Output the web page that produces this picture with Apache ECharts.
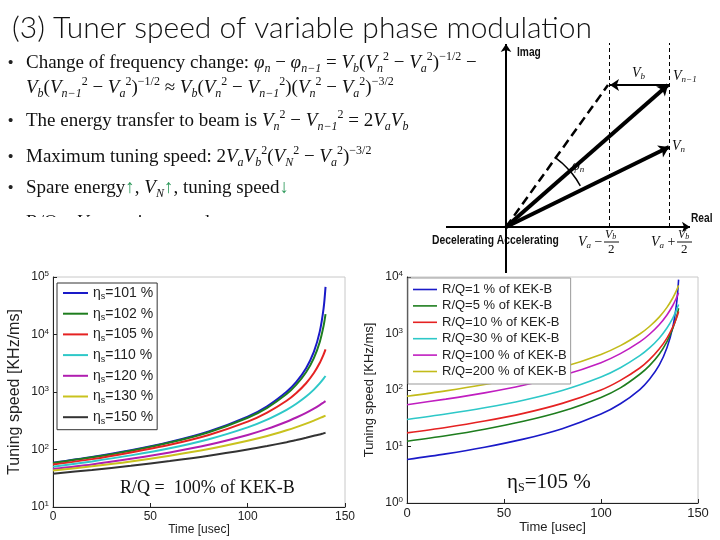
<!DOCTYPE html>
<html><head><meta charset="utf-8">
<script src="https://cdn.jsdelivr.net/npm/echarts/dist/echarts.min.js"></script>
<style>html,body{margin:0;padding:0;background:#fff}#c{width:720px;height:540px}</style>
</head><body><div id="c"></div>
<script>
// ---------- data ----------
const timeUs = [0, 20, 40, 60, 80, 100, 110, 120, 125, 130, 134, 137, 139, 140];

// left chart: R/Q = 100% of KEK-B, different eta_s
const etaLabels = ['101', '102', '105', '110', '120', '130', '150'];
const eta101 = [59, 74, 97, 135, 206, 373, 565, 1010, 1500, 2600, 5000, 11100, 28500, 67500];
const eta102 = [58, 73, 95, 132, 200, 356, 531, 920, 1340, 2200, 3880, 7330, 14100, 22600];
const eta105 = [55, 68, 89, 121, 179, 305, 438, 704, 960, 1420, 2140, 3190, 4490, 5510];
const eta110 = [50, 62, 79, 105, 151, 243, 331, 490, 624, 832, 1100, 1410, 1710, 1900];
const eta120 = [46, 55, 69, 89, 121, 179, 228, 304, 360, 434, 515, 593, 657, 693];
const eta130 = [43, 51, 62, 78, 102, 142, 172, 216, 245, 282, 318, 351, 375, 389];
const eta150 = [38, 44, 52, 63, 78, 100, 115, 134, 146, 160, 173, 183, 191, 195];

// right chart: eta_s = 105 %, different R/Q
const rqLabels = ['1', '5', '10', '30', '100', '200'];
const rq1 = [5.9, 7.4, 9.7, 13.5, 20.7, 37.5, 57, 102, 155, 275, 560, 1300, 3500, 9000];
const rq5 = [12.4, 15.5, 20.2, 27.9, 42, 74, 109, 190, 270, 430, 720, 1230, 2000, 2800];
const rq10 = [17.4, 21.7, 28.2, 38.6, 58, 100, 148, 245, 345, 530, 830, 1300, 1900, 2450];
const rq30 = [30, 37.5, 48.5, 66, 98, 170, 248, 405, 555, 825, 1250, 1880, 2650, 3250];
const rq100 = [55, 69, 89, 121, 180, 305, 440, 710, 970, 1430, 2130, 3130, 4350, 5250];
const rq200 = [77.6, 96.6, 125, 170, 252, 427, 610, 980, 1330, 1950, 2900, 4250, 5850, 7100];

const xTicks = [0, 50, 100, 150];

// phasor diagram (arbitrary units)
const imagAxis = [[0, -4.6], [0, 18.3]];
const realAxis = [[-6, 0], [18.4, 0]];
const vecNm1 = [[0, 0], [16.2, 14.2]];
const vecN = [[0, 0], [16.3, 8.0]];
const vecDashed = [[0, 0], [10.2, 14.2]];
const vecVb = [[16.3, 14.2], [10.4, 14.2]];
const guideLow = [[10.3, 0], [10.3, 18.4]];
const guideHigh = [[16.3, 0], [16.3, 18.4]];
const phiArc = [[5.0, 6.88], [5.58, 6.42], [6.11, 5.91], [6.61, 5.35], [7.05, 4.75], [7.43, 4.12]];

// ---------- chart ----------
const SANS = 'Liberation Sans, Arial, sans-serif';
const SERIF = 'Liberation Serif, Times New Roman, serif';
const leftColors = ['#1a1ac8', '#1e7d1e', '#e52222', '#2ec8c8', '#b01eb0', '#c9c21e', '#333333'];
const rightColors = ['#1a1ac8', '#1e7d1e', '#e52222', '#2ec8c8', '#c01ec0', '#c2bb1a'];

function pairs(arr) { return timeUs.map((t, i) => [t, arr[i]]); }

const leftData = [eta101, eta102, eta105, eta110, eta120, eta130, eta150];
const rightData = [rq1, rq5, rq10, rq30, rq100, rq200];
const leftNames = etaLabels.map(l => 'ηs=' + l + ' %');
const rightNames = rqLabels.map(l => 'R/Q=' + l + ' % of KEK-B');

function logLabel(v) {
  return '{b|10}{e|' + Math.round(Math.log10(v)) + '}';
}

function makeX(idx, fs) {
  return {
    type: 'value', gridIndex: idx, min: 0, max: 150, interval: 50,
    name: 'Time [usec]', nameLocation: 'middle', nameGap: idx === 0 ? 16 : 17,
    nameTextStyle: { fontFamily: SANS, fontSize: fs, color: '#222' },
    axisLine: { show: true, lineStyle: { color: '#222', width: 1 } },
    axisTick: { show: true, inside: true, length: 4, lineStyle: { color: '#222' } },
    axisLabel: { fontFamily: SANS, fontSize: fs, color: '#222', margin: 4 },
    splitLine: { show: false }
  };
}
function makeY(idx, min, max, nfs, gap) {
  return {
    type: 'log', logBase: 10, gridIndex: idx, min: min, max: max,
    name: 'Tuning speed [KHz/ms]', nameLocation: 'middle', nameGap: gap,
    nameTextStyle: { fontFamily: SANS, fontSize: nfs, color: '#222' },
    axisLine: { show: true, lineStyle: { color: '#222', width: 1 } },
    axisTick: { show: true, inside: true, length: 4, lineStyle: { color: '#222' } },
    axisLabel: {
      formatter: logLabel, margin: 4,
      rich: {
        b: { fontFamily: SANS, fontSize: 12, color: '#222', lineHeight: 14 },
        e: { fontFamily: SANS, fontSize: 8, color: '#222', lineHeight: 8, verticalAlign: 'top' }
      }
    },
    splitLine: { show: false }
  };
}

const series = [];
leftData.forEach((arr, i) => series.push({
  type: 'line', name: leftNames[i], xAxisIndex: 0, yAxisIndex: 0,
  data: pairs(arr), showSymbol: false, symbol: 'none', smooth: 0.3,
  lineStyle: { width: 2, color: leftColors[i] }, itemStyle: { color: leftColors[i] }, z: 2
}));
rightData.forEach((arr, i) => series.push({
  type: 'line', name: rightNames[i], xAxisIndex: 1, yAxisIndex: 1,
  data: pairs(arr), showSymbol: false, symbol: 'none', smooth: 0.3,
  lineStyle: { width: 1.6, color: rightColors[i] }, itemStyle: { color: rightColors[i] }, z: 2
}));

function vec(coords, opts) {
  return Object.assign({
    type: 'lines', coordinateSystem: 'cartesian2d', xAxisIndex: 2, yAxisIndex: 2,
    silent: true, animation: false,
    data: [{ coords: coords }],
    symbol: ['none', 'arrow'], symbolSize: 10,
    lineStyle: { color: '#000', width: 4, opacity: 1, curveness: 0 }
  }, opts);
}
series.push(vec(imagAxis, { symbolSize: 8, lineStyle: { color: '#000', width: 2, opacity: 1 } }));
series.push(vec(realAxis, { symbolSize: 8, lineStyle: { color: '#000', width: 2, opacity: 1 } }));
series.push(vec(guideLow, { symbol: ['none', 'none'], lineStyle: { color: '#000', width: 1, type: [4, 3], opacity: 1 } }));
series.push(vec(guideHigh, { symbol: ['none', 'none'], lineStyle: { color: '#000', width: 1, type: [4, 3], opacity: 1 } }));
series.push(vec(vecDashed, { symbol: ['none', 'none'], lineStyle: { color: '#000', width: 2.5, type: [9, 5], opacity: 1 } }));
series.push(vec(vecNm1, {}));
series.push(vec(vecN, {}));
series.push(vec(vecVb, { symbolSize: 9, lineStyle: { color: '#000', width: 2, opacity: 1 } }));
series.push(vec(phiArc, { polyline: true, symbol: ['arrow', 'arrow'], symbolSize: 7, lineStyle: { color: '#000', width: 1.5, opacity: 1 } }));

// math text rich styles
const T = 19, S = 12;
const mathRich = {
  n: { fontFamily: SERIF, fontSize: T, fill: '#111', lineHeight: 24 },
  i: { fontFamily: SERIF, fontSize: T, fontStyle: 'italic', fill: '#111', lineHeight: 24 },
  s: { fontFamily: SERIF, fontSize: S, fontStyle: 'italic', fill: '#111', lineHeight: 12, verticalAlign: 'bottom' },
  p: { fontFamily: SERIF, fontSize: S, fill: '#111', lineHeight: 12, verticalAlign: 'top' },
  g: { fontFamily: SANS, fontSize: T, fill: '#2f9a5c', lineHeight: 24 }
};
const mathLines = [
  '{n|Change of frequency change: }{i|φ}{s|n}{n| − }{i|φ}{s|n−1}{n| = }{i|V}{s|b}{n|(}{i|V}{s|n}{p|2}{n| − }{i|V}{s|a}{p|2}{n|)}{p|−1/2}{n| −}',
  '{i|V}{s|b}{n|(}{i|V}{s|n−1}{p|2}{n| − }{i|V}{s|a}{p|2}{n|)}{p|−1/2}{n| ≈ }{i|V}{s|b}{n|(}{i|V}{s|n}{p|2}{n| − }{i|V}{s|n−1}{p|2}{n|)(}{i|V}{s|n}{p|2}{n| − }{i|V}{s|a}{p|2}{n|)}{p|−3/2}',
  '{n|The energy transfer to beam is }{i|V}{s|n}{p|2}{n| − }{i|V}{s|n−1}{p|2}{n| = 2}{i|V}{s|a}{i|V}{s|b}',
  '{n|Maximum tuning speed: 2}{i|V}{s|a}{i|V}{s|b}{p|2}{n|(}{i|V}{s|N}{p|2}{n| − }{i|V}{s|a}{p|2}{n|)}{p|−3/2}',
  '{n|Spare energy}{g|↑}{n|, }{i|V}{s|N}{g|↑}{n|, tuning speed}{g|↓}',
  '{n|R/Q}{g|↓}{n|, }{i|V}{s|b}{g|↓}{n|, tuning speed}{g|↓}'
];
const lineYs = [63, 88, 121, 157, 188, 223];
const bulletOn = [true, false, true, true, true, true];

const graphic = [];
graphic.push({ type: 'text', x: 12, y: 28, style: { text: '(3) Tuner speed of variable phase modulation', fontFamily: 'Lato, Open Sans, sans-serif', fontWeight: 300, fontSize: 30, fill: '#111', verticalAlign: 'middle' } });
mathLines.forEach((txt, k) => {
  if (bulletOn[k]) graphic.push({ type: 'text', x: 8, y: lineYs[k], style: { text: '•', fontFamily: SANS, fontSize: 15, fill: '#222', verticalAlign: 'middle' } });
  graphic.push({ type: 'text', x: 26, y: lineYs[k], style: { text: txt, rich: mathRich, verticalAlign: 'middle' } });
});
graphic.push({ type: 'rect', shape: { x: 0, y: 217, width: 428, height: 50 }, style: { fill: '#fff' } });

// diagram labels
const dLab = { fontFamily: 'Liberation Sans, sans-serif', fontWeight: 'bold', fontSize: 12, fill: '#111', verticalAlign: 'middle' };
const vRich = {
  i: { fontFamily: SERIF, fontStyle: 'italic', fontSize: 14, fill: '#111', lineHeight: 16 },
  s: { fontFamily: SERIF, fontStyle: 'italic', fontSize: 9, fill: '#111', lineHeight: 9, verticalAlign: 'bottom' },
  n: { fontFamily: SERIF, fontSize: 14, fill: '#111', lineHeight: 16 }
};
graphic.push({ type: 'text', x: 517, y: 53, scaleX: 0.85, style: Object.assign({ text: 'Imag' }, dLab) });
graphic.push({ type: 'text', x: 691, y: 219, scaleX: 0.85, style: Object.assign({ text: 'Real' }, dLab) });
graphic.push({ type: 'text', x: 432, y: 241, scaleX: 0.86, style: Object.assign({ text: 'Decelerating Accelerating' }, dLab) });
graphic.push({ type: 'text', x: 632, y: 73, style: { text: '{i|V}{s|b}', rich: vRich, verticalAlign: 'middle' } });
graphic.push({ type: 'text', x: 673, y: 76, style: { text: '{i|V}{s|n−1}', rich: vRich, verticalAlign: 'middle' } });
graphic.push({ type: 'text', x: 672, y: 146, style: { text: '{i|V}{s|n}', rich: vRich, verticalAlign: 'middle' } });
graphic.push({ type: 'text', x: 572, y: 166, style: { text: '{i|φ}{s|n}', rich: vRich, verticalAlign: 'middle' } });
graphic.push({ type: 'text', x: 578, y: 242, style: { text: '{i|V}{s|a}{n| −}', rich: vRich, verticalAlign: 'middle' } });
graphic.push({ type: 'text', x: 651, y: 242, style: { text: '{i|V}{s|a}{n| +}', rich: vRich, verticalAlign: 'middle' } });
[604, 677].forEach(fx => {
  graphic.push({ type: 'text', x: fx + 1, y: 235, style: { text: '{i|V}{s|b}', rich: { i: { fontFamily: SERIF, fontStyle: 'italic', fontSize: 12, fill: '#111' }, s: { fontFamily: SERIF, fontStyle: 'italic', fontSize: 8, fill: '#111', verticalAlign: 'bottom' } }, verticalAlign: 'middle' } });
  graphic.push({ type: 'line', shape: { x1: fx, y1: 242, x2: fx + 15, y2: 242 }, style: { stroke: '#111', lineWidth: 1 } });
  graphic.push({ type: 'text', x: fx + 4, y: 250, style: { text: '2', fontFamily: SERIF, fontSize: 13, fill: '#111', verticalAlign: 'middle' } });
});

// chart annotations
graphic.push({ type: 'text', x: 120, y: 488, style: { text: 'R/Q =  100% of KEK-B', fontFamily: SERIF, fontSize: 18, fill: '#111', verticalAlign: 'middle' }, z: 10 });
graphic.push({ type: 'text', x: 507, y: 482, style: { text: '{a|η}{b|S}{a|=105 %}', rich: { a: { fontFamily: SERIF, fontSize: 21, fill: '#111', lineHeight: 24 }, b: { fontFamily: SERIF, fontSize: 12, fill: '#111', lineHeight: 12, verticalAlign: 'bottom' } }, verticalAlign: 'middle' }, z: 10 });

const option = {
  backgroundColor: '#fff',
  animation: false,
  grid: [
    { left: 53, top: 277, width: 292, height: 230, show: true, borderColor: '#c8c8c8', borderWidth: 1, backgroundColor: 'transparent' },
    { left: 407, top: 277, width: 291, height: 226, show: true, borderColor: '#c8c8c8', borderWidth: 1, backgroundColor: 'transparent' },
    { left: 446, top: 43, width: 244, height: 230 }
  ],
  xAxis: [
    makeX(0, 12),
    makeX(1, 13),
    { type: 'value', gridIndex: 2, min: -6, max: 18.4, show: false }
  ],
  yAxis: [
    makeY(0, 10, 100000, 16, 30),
    makeY(1, 1, 10000, 13, 31),
    { type: 'value', gridIndex: 2, min: -4.6, max: 18.4, show: false }
  ],
  legend: [
    {
      data: leftNames, orient: 'vertical', left: 57, top: 283, icon: 'rect', itemWidth: 25, itemHeight: 2,
      itemGap: 5.2, padding: [3, 4, 4, 6], backgroundColor: '#fff', borderColor: '#333', borderWidth: 1,
      selectedMode: false,
      formatter: name => '{t|η}{s|s}{t|' + name.slice(2) + '}',
      textStyle: {
        rich: {
          t: { fontFamily: SANS, fontSize: 14, color: '#222', lineHeight: 17 },
          s: { fontFamily: SANS, fontSize: 9, color: '#222', lineHeight: 9, verticalAlign: 'bottom' }
        }
      }
    },
    {
      data: rightNames, orient: 'vertical', left: 408, top: 278, icon: 'rect', itemWidth: 24, itemHeight: 1.6,
      itemGap: 1.4, padding: [4, 4, 5, 5], backgroundColor: '#fff', borderColor: '#999', borderWidth: 1,
      selectedMode: false,
      textStyle: { fontFamily: SANS, fontSize: 13, color: '#222', lineHeight: 15 }
    }
  ],
  series: series,
  graphic: graphic
};

const chart = echarts.init(document.getElementById('c'), null, { renderer: 'canvas' });
chart.setOption(option);
</script></body></html>
